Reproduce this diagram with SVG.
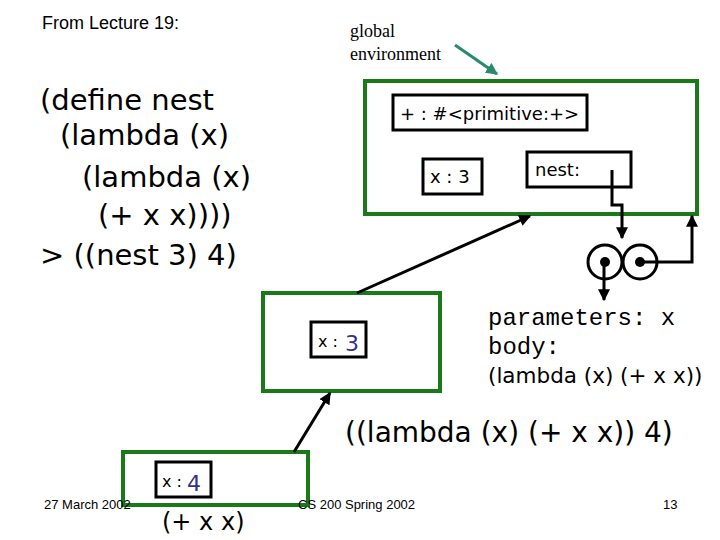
<svg xmlns="http://www.w3.org/2000/svg" width="720" height="540" viewBox="0 0 720 540">
<defs>
<style>
.env{fill:none;stroke:#1a7a1a;stroke-width:4}
.bx{fill:#fff;stroke:#000;stroke-width:3}
.ln{fill:none;stroke:#000;stroke-width:3}
.s{font-family:"DejaVu Sans",sans-serif}
.m{font-family:"Liberation Mono",monospace}
.r{font-family:"Liberation Serif",serif}
.a{font-family:"Liberation Sans",sans-serif}
</style>
<marker id="ar" viewBox="0 0 10 10" refX="9" refY="5" markerWidth="4" markerHeight="4" orient="auto"><path d="M0,0L10,5L0,10z" fill="#000"/></marker>
<marker id="ag" viewBox="0 0 10 10" refX="9" refY="5" markerWidth="4" markerHeight="4" orient="auto"><path d="M0,0L10,5L0,10z" fill="#2a8a6a"/></marker>
</defs>
<text x="42" y="29" class="a" font-size="18">From Lecture 19:</text>
<text x="350" y="37" class="r" font-size="18">global</text>
<text x="350" y="60" class="r" font-size="18">environment</text>
<g class="s" font-size="29">
<text x="40" y="110">(define nest</text>
<text x="60" y="145">(lambda (x)</text>
<text x="82" y="187">(lambda (x)</text>
<text x="98" y="225">(+ x x))))</text>
<text x="40" y="265">&gt; ((nest 3) 4)</text>
</g>
<g id="global">
<rect class="env" x="365" y="81" width="332" height="133"/>
<rect class="bx" x="393" y="95" width="194" height="35"/>
<text x="400" y="120" class="s" font-size="18">+ : #&lt;primitive:+&gt;</text>
<rect class="bx" x="423" y="159" width="59" height="35"/>
<text x="430" y="183" class="s" font-size="18">x : 3</text>
<rect class="bx" x="527" y="152" width="104" height="35"/>
<text x="535" y="176" class="s" font-size="18">nest:</text>
</g>
<g id="proc">
<circle cx="605" cy="262" r="17" fill="#fff" stroke="#000" stroke-width="3"/>
<circle cx="640" cy="262" r="17" fill="#fff" stroke="#000" stroke-width="3"/>
<circle cx="605" cy="262" r="5"/>
<circle cx="640" cy="262" r="5"/>
<text x="488" y="325" class="m" font-size="24">parameters: x</text>
<text x="488" y="354" class="m" font-size="24">body:</text>
<text x="488" y="383" class="s" font-size="21.5">(lambda (x) (+ x x))</text>
</g>
<g id="env2">
<rect class="env" x="263" y="293" width="177" height="98"/>
<rect class="bx" x="311" y="322" width="55" height="35"/>
<text x="318" y="347" class="s" font-size="16">x :</text><text x="345" y="351" class="s" font-size="22" fill="#333388">3</text>
</g>
<g id="env3">
<rect class="env" x="123" y="452" width="185" height="53"/>
<rect class="bx" x="156" y="462" width="55" height="35"/>
<text x="162" y="487" class="s" font-size="16">x :</text><text x="187" y="491" class="s" font-size="22" fill="#333388">4</text>
</g>
<text x="345" y="442" class="s" font-size="28">((lambda (x) (+ x x)) 4)</text>
<text x="162" y="530" class="s" font-size="24">(+ x x)</text>
<text x="44" y="509" class="a" font-size="13">27 March 2002</text>
<text x="298" y="509" class="a" font-size="13">CS 200 Spring 2002</text>
<text x="663" y="509" class="a" font-size="13">13</text>
<g id="connectors">
<line x1="455" y1="45" x2="497" y2="74" stroke="#2a8a6a" stroke-width="3" marker-end="url(#ag)"/>
<polyline class="ln" points="612,170 612,205 622,205 622,238" marker-end="url(#ar)"/>
<polyline class="ln" points="640,262 692,262 692,216" marker-end="url(#ar)"/>
<line class="ln" x1="604" y1="262" x2="604" y2="300" marker-end="url(#ar)"/>
<line class="ln" x1="357" y1="293" x2="530" y2="216" marker-end="url(#ar)"/>
<line class="ln" x1="294" y1="452" x2="330" y2="393" marker-end="url(#ar)"/>
</g>
</svg>
